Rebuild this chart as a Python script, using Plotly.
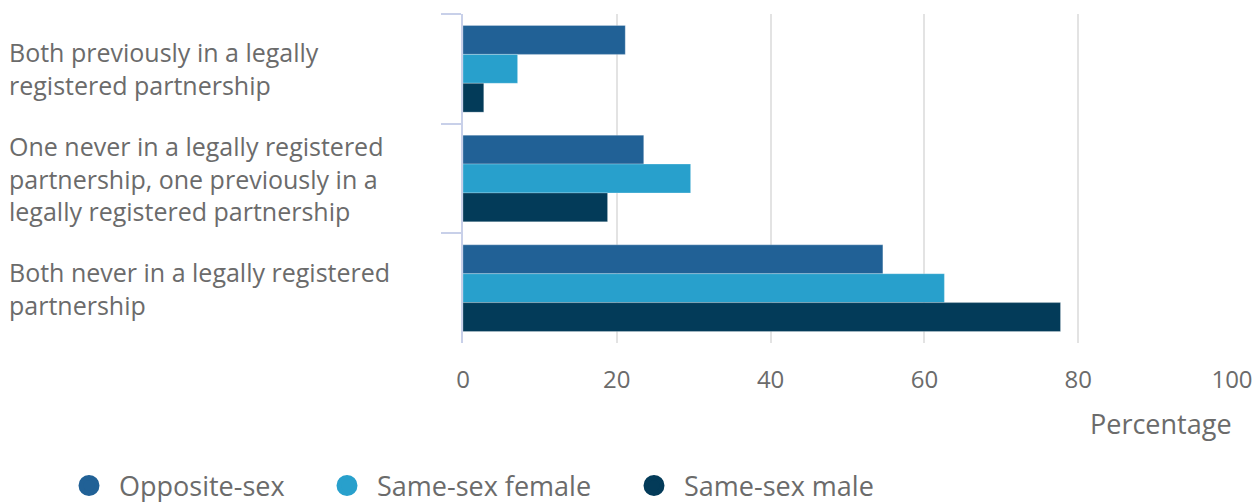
import plotly.graph_objects as go

categories = [
    "Both previously in a legally<br>registered partnership",
    "One never in a legally registered<br>partnership, one previously in a<br>legally registered partnership",
    "Both never in a legally registered<br>partnership",
]
series_names = ["Opposite-sex", "Same-sex female", "Same-sex male"]
opposite_sex = [21.1, 23.5, 54.6]
same_sex_female = [7.1, 29.6, 62.6]
same_sex_male = [2.7, 18.8, 77.7]
x_ticks = [0, 20, 40, 60, 80, 100]

colors = ["#216196", "#28a0cc", "#033b59"]
font_family = "Open Sans"
text_color = "#6b6b6b"

fig = go.Figure()
for name, vals, col in zip(series_names, [opposite_sex, same_sex_female, same_sex_male], colors):
    fig.add_trace(go.Bar(
        y=categories, x=vals, name=name, orientation="h",
        marker=dict(color=col, line=dict(color="rgba(255,255,255,0.5)", width=0.5)),
        showlegend=False,
    ))

legend_names = ["legend", "legend2", "legend3"]
for name, col, lg in zip(series_names, colors, legend_names):
    fig.add_trace(go.Scatter(
        x=[None], y=[None], mode="markers", name=name,
        marker=dict(color=col, size=26, symbol="circle", line=dict(color=col, width=5)),
        legend=lg, showlegend=True,
    ))

leg_common = dict(orientation="h", yref="container", y=0.032, yanchor="middle",
                  xref="container", xanchor="left", itemwidth=50,
                  font=dict(family=font_family, size=27, color=text_color),
                  bgcolor="rgba(0,0,0,0)")
fig.update_layout(
    legend=dict(x=59 / 1260, **leg_common),
    legend2=dict(x=317 / 1260, **leg_common),
    legend3=dict(x=624 / 1260, **leg_common),
)

for cat in categories:
    fig.add_annotation(
        x=-0.593, xref="paper", y=cat, yref="y", text=cat, showarrow=False,
        xanchor="left", yanchor="middle", align="left",
        font=dict(family=font_family, size=25, color=text_color),
    )

fig.add_annotation(
    x=1.002, xref="paper", y=-0.245, yref="paper", text="Percentage",
    showarrow=False, xanchor="right", yanchor="middle",
    font=dict(family=font_family, size=27, color=text_color),
)

fig.update_layout(
    width=1260, height=502,
    margin=dict(l=463, r=28, t=14, b=159, autoexpand=False),
    paper_bgcolor="white", plot_bgcolor="white",
    barmode="group", bargap=0.21, bargroupgap=0,
    font=dict(family=font_family, color=text_color),
    xaxis=dict(
        range=[0, 100], tickvals=x_ticks, showgrid=True, gridcolor="#e3e3e3", gridwidth=2,
        zeroline=False, showline=False, ticks="",
        tickfont=dict(family=font_family, size=24, color=text_color),
        ticklabelstandoff=20,
    ),
    yaxis=dict(
        autorange="reversed", showticklabels=False, showline=True, linecolor="#c8d0e9",
        linewidth=2, ticks="outside", tickson="boundaries", ticklen=20, tickcolor="#c8d0e9",
        tickwidth=2, showgrid=False,
    ),
)

fig.write_html("out.html", config={"displayModeBar": False},
               post_script="document.body.style.margin='0';")
